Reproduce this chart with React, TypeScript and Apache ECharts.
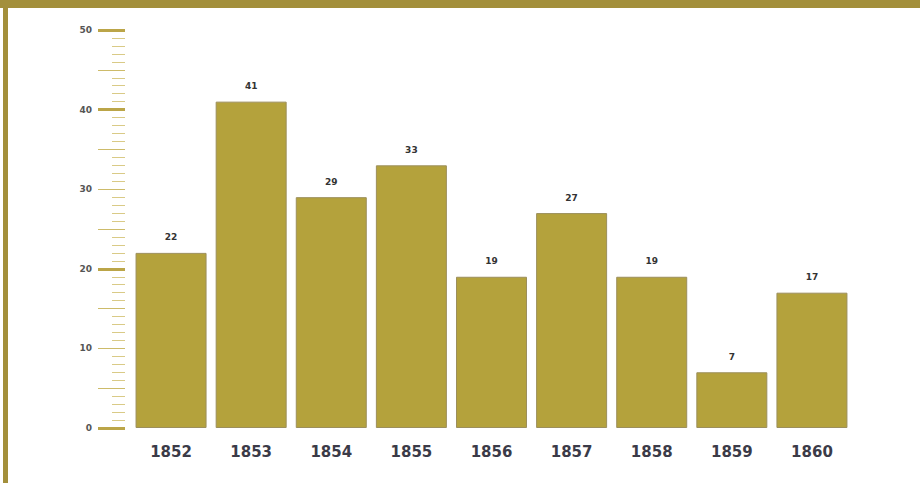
import React, { useEffect, useRef } from "react";
import * as echarts from "echarts";

const years = ["1852", "1853", "1854", "1855", "1856", "1857", "1858", "1859", "1860"];
const counts = [22, 41, 29, 33, 19, 27, 19, 7, 17];

export default function App() {
  const ref = useRef<HTMLDivElement>(null);
  useEffect(() => {
    if (!ref.current) return;
    const chart = echarts.init(ref.current, undefined, { renderer: "svg" });
    chart.setOption({
      animation: false,
      backgroundColor: "#ffffff",
      grid: { left: 131, right: 68, top: 30, bottom: 55 },
      graphic: [
        { type: "rect", left: 0, top: 0, shape: { width: 920, height: 8 }, style: { fill: "#A38F3B" } },
        { type: "rect", left: 3, top: 0, shape: { width: 5, height: 483 }, style: { fill: "#A38F3B" } },
      ],
      xAxis: {
        type: "category",
        data: years,
        axisLine: { show: false },
        axisTick: { show: false },
        axisLabel: {
          margin: 16,
          fontFamily: "DejaVu Sans",
          fontWeight: "bold",
          fontSize: 15,
          color: "#3b3b48",
        },
      },
      yAxis: [
        {
          type: "value",
          min: 0,
          max: 50,
          interval: 5,
          offset: 6,
          splitLine: { show: false },
          axisLine: { show: false },
          axisTick: { show: true, length: 27, lineStyle: { color: "#CDBB6A", width: 1 } },
          minorTick: { show: true, splitNumber: 5, length: 13, lineStyle: { color: "#D9CA86", width: 1 } },
          axisLabel: {
            margin: 33,
            fontFamily: "DejaVu Sans",
            fontWeight: "bold",
            fontSize: 9,
            color: "#555555",
            formatter: (v: number) => (v % 10 === 0 ? String(v) : ""),
          },
        },
        {
          type: "value",
          min: 0,
          max: 50,
          interval: 20,
          offset: 6,
          position: "left",
          splitLine: { show: false },
          axisLine: { show: false },
          axisTick: { show: true, length: 27, lineStyle: { color: "#BBA548", width: 3 } },
          axisLabel: { show: false },
        },
      ],
      series: [
        {
          type: "bar",
          data: counts,
          yAxisIndex: 0,
          barWidth: 71,
          itemStyle: { color: "#B4A23C", borderColor: "#9C8F5C", borderWidth: 1 },
          label: {
            show: true,
            position: "top",
            distance: 11,
            fontFamily: "DejaVu Sans",
            fontWeight: "bold",
            fontSize: 9,
            color: "#333333",
          },
        },
      ],
    });
    return () => chart.dispose();
  }, []);
  return (
    <div
      ref={ref}
      style={{ position: "fixed", left: 0, top: 0, width: 920, height: 483 }}
    />
  );
}
